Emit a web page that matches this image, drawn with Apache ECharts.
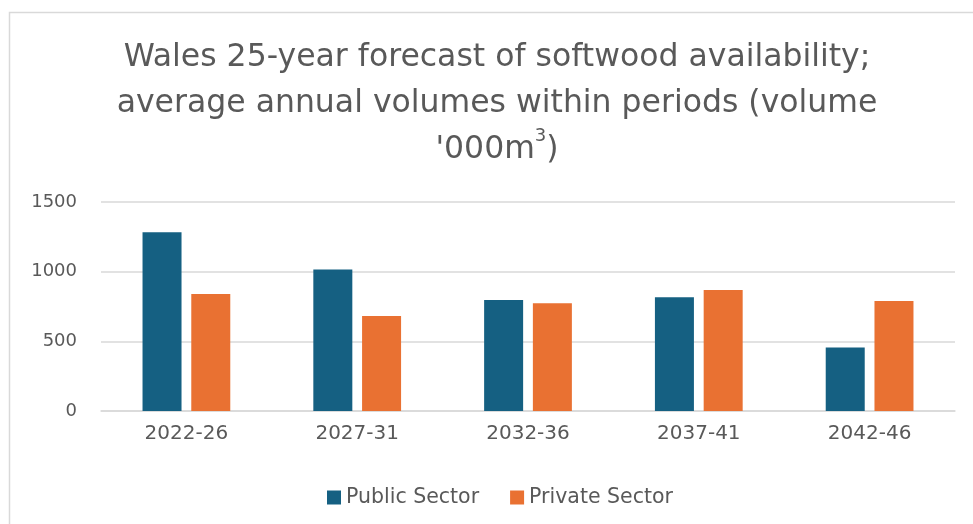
<!DOCTYPE html>
<html>
<head>
<meta charset="utf-8">
<script src="https://cdn.jsdelivr.net/npm/echarts@6/dist/echarts.min.js"></script>
<style>
  html, body { margin: 0; padding: 0; background: #ffffff; }
  #chart { width: 973px; height: 524px; }
</style>
</head>
<body>
<div id="chart"></div>
<script>
// Periods and average annual softwood volumes ('000 m3)
const periods = ['2022-26', '2027-31', '2032-36', '2037-41', '2042-46'];
const publicSector = [1282, 1016, 797, 816, 455];
const privateSector = [840, 682, 773, 869, 790];
const yTicks = { min: 0, max: 1500, interval: 500 };

const FONT = '"DejaVu Sans", "Open Sans", sans-serif';
const TEXT = '#595959';
const GRID = '#d9d9d9';

const chart = echarts.init(document.getElementById('chart'), null, { renderer: 'canvas' });

chart.setOption({
  backgroundColor: '#ffffff',
  animation: false,
  graphic: [{
    type: 'rect',
    shape: { x: 9.5, y: 12.5, width: 1000, height: 1000 },
    style: { fill: 'none', stroke: GRID, lineWidth: 1.5 },
    silent: true,
    z: -10
  }],
  title: {
    text: "Wales 25-year forecast of softwood availability;\naverage annual volumes within periods (volume\n'000m{sup|3})",
    left: 492,
    top: 30,
    textAlign: 'center',
    textStyle: {
      fontFamily: FONT,
      fontSize: 31.5,
      fontWeight: 'normal',
      color: TEXT,
      lineHeight: 46,
      rich: {
        sup: {
          fontFamily: FONT,
          fontSize: 18,
          color: TEXT,
          verticalAlign: 'top',
          lineHeight: 46,
          padding: [0, 0, 16, 0]
        }
      }
    }
  },
  legend: {
    data: ['Public Sector', 'Private Sector'],
    left: 322,
    top: 482,
    icon: 'rect',
    itemWidth: 14,
    itemHeight: 14,
    itemGap: 31,
    textStyle: { fontFamily: FONT, fontSize: 20.5, color: TEXT }
  },
  grid: { left: 101, right: 18, top: 202, bottom: 113, containLabel: false },
  xAxis: {
    type: 'category',
    data: periods,
    axisLine: { show: true, lineStyle: { color: GRID, width: 1.5 } },
    axisTick: { show: false },
    axisLabel: { fontFamily: FONT, fontSize: 20, color: TEXT, margin: 13 }
  },
  yAxis: {
    type: 'value',
    min: yTicks.min,
    max: yTicks.max,
    interval: yTicks.interval,
    axisLine: { show: false },
    axisTick: { show: false },
    splitLine: { lineStyle: { color: GRID, width: 1.5 } },
    axisLabel: {
      fontFamily: FONT, fontSize: 18, color: TEXT, margin: 24,
      formatter: v => String(v)
    }
  },
  series: [
    {
      name: 'Public Sector',
      type: 'bar',
      data: publicSector,
      barWidth: 39,
      barGap: '25%',
      itemStyle: { color: '#156082' }
    },
    {
      name: 'Private Sector',
      type: 'bar',
      data: privateSector,
      barWidth: 39,
      barGap: '25%',
      itemStyle: { color: '#E97132' }
    }
  ]
});
</script>
</body>
</html>
